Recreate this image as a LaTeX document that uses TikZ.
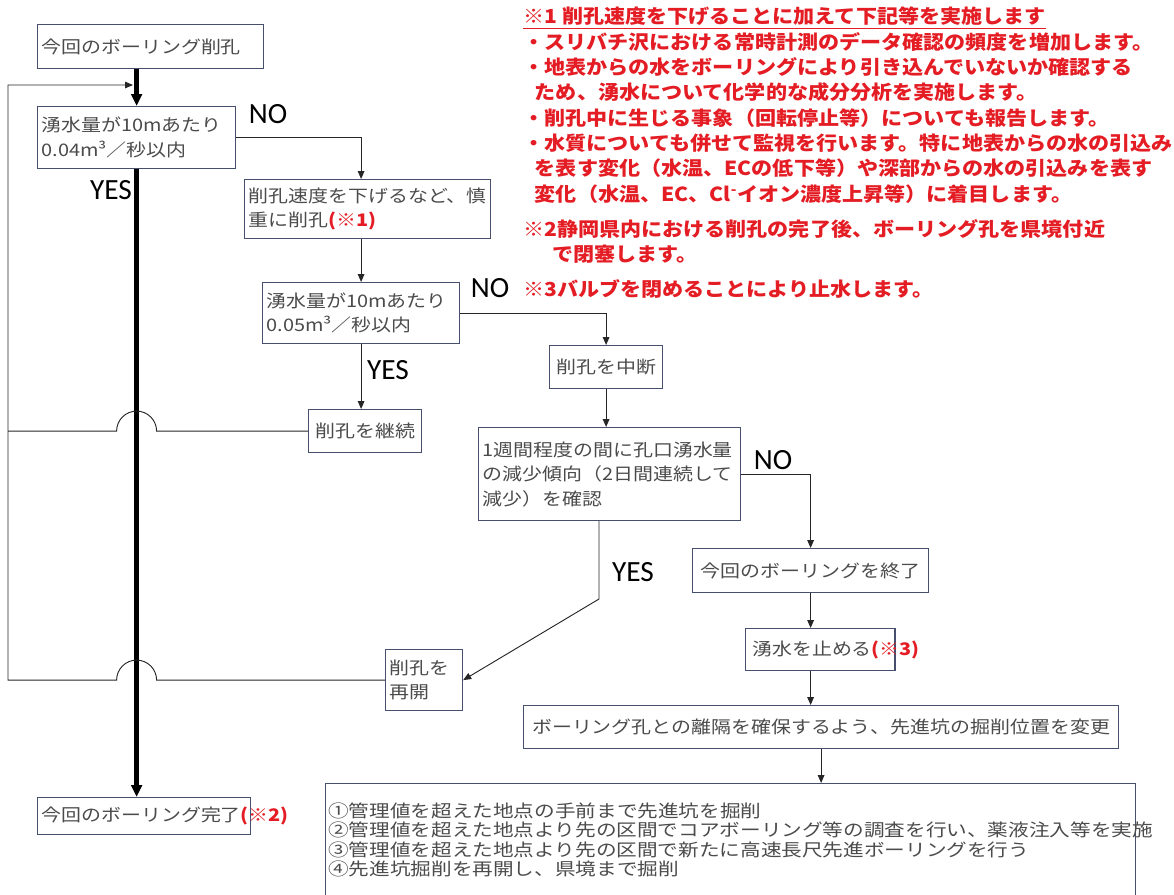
\documentclass[tikz,border=0pt]{standalone}
\usepackage{fontspec}
\setmainfont{Noto Sans CJK JP}[FakeStretch=1.15]
\newfontfamily\listfont{Noto Sans CJK JP}[FakeStretch=1.19]
\newfontfamily\notefont{Noto Sans CJK JP}[FakeStretch=1.09]
\newfontfamily\ynfont{Carlito}
\usetikzlibrary{arrows.meta,calc}
\definecolor{boxline}{RGB}{70,80,110}
\definecolor{boxtext}{RGB}{75,75,75}
\definecolor{notered}{RGB}{228,28,36}
\newcommand{\redmark}[1]{{\color{notered}\bfseries(※#1)}}
\tikzset{
  box/.style={draw=boxline,line width=0.9pt,fill=white,inner xsep=3pt,inner ysep=0pt,
    anchor=north west,text=boxtext,font=\fontsize{13}{18.4}\selectfont,align=left},
  flow/.style={draw=black!85,line width=0.7pt,-{Triangle[length=6pt,width=5pt]}},
  trunk/.style={line width=3.2pt,-{Triangle[length=9pt,width=8pt]}},
  yn/.style={font=\ynfont\fontsize{22}{22}\selectfont},
  note/.style={anchor=north west,inner sep=0pt,align=left,text=notered,
    font=\notefont\bfseries\fontsize{14.5}{19}\selectfont},
}

\begin{document}
\begin{tikzpicture}[x=0.75pt,y=-0.75pt]
  \useasboundingbox (0,0) rectangle (1174,894);
  \node[box,text width=163.5pt,minimum height=33pt] (kaishi) at (37,24) {今回のボーリング削孔};
  \node[box,text width=142.5pt,minimum height=46.5pt] (check1) at (37,106) {湧水量が10mあたり\\0.04m³／秒以内};
  \node[box,text width=178.5pt,minimum height=44.25pt] (gensoku) at (244,179) {削孔速度を下げるなど、慎\\重に削孔\redmark{1}};
  \node[box,text width=141.75pt,minimum height=45.75pt] (check2) at (262,282) {湧水量が10mあたり\\0.05m³／秒以内};
  \node[box,text width=78.75pt,minimum height=32.25pt,align=center] (chudan) at (549,345) {削孔を中断};
  \node[box,text width=78.75pt,minimum height=32.25pt,align=center] (keizoku) at (308,409) {削孔を継続};
  \node[box,text width=190.5pt,minimum height=69.75pt] (kakunin) at (478,427) {1週間程度の間に孔口湧水量\\の減少傾向（2日間連続して\\減少）を確認};
  \node[box,text width=171pt,minimum height=33pt,align=center] (shuryo) at (692,548) {今回のボーリングを終了};
  \node[box,text width=102pt,minimum height=31.5pt,inner xsep=5pt] (tomeru) at (745,628) {湧水を止める\redmark{3}};
  \node[box,text width=51.75pt,minimum height=45.75pt] (saikai) at (385,649) {削孔を\\再開};
  \node[box,text width=440.25pt,minimum height=32.25pt,align=center] (henko) at (523,705) {ボーリング孔との離隔を確保するよう、先進坑の掘削位置を変更};
  \node[box,text width=153.75pt,minimum height=27.75pt] (kanryo) at (37,797) {今回のボーリング完了\redmark{2}};
  \node[box,text width=603.5pt,minimum height=84.75pt,inner xsep=2pt,font=\listfont\fontsize{13}{14.6}\selectfont] (taisaku) at (325,783) {①管理値を超えた地点の手前まで先進坑を掘削\\②管理値を超えた地点より先の区間でコアボーリング等の調査を行い、薬液注入等を実施\\③管理値を超えた地点より先の区間で新たに高速長尺先進ボーリングを行う\\④先進坑掘削を再開し、県境まで掘削};

  \coordinate (loopx) at (8,85);
  \coordinate (loopin) at (133,85);
  \coordinate (yesbend) at (599,599);

  \draw[trunk] (check1.north |- kaishi.south) -- (check1.north);
  \draw[trunk] (check1.south) -- (check1.south |- kanryo.north);
  \draw[flow] (check1.east) -| (check2.north |- gensoku.north);
  \draw[flow] (check2.north |- gensoku.south) -- (check2.north);
  \draw[flow] (check2.east) -| (chudan.north);
  \draw[flow] (check2.south) -- (check2.south |- keizoku.north);
  \draw[flow] (chudan.south) -- (chudan.south |- kakunin.north);
  \draw[flow] (kakunin.east) -| (shuryo.north);
  \draw[flow] (shuryo.south) -- (shuryo.south |- tomeru.north);
  \draw[flow] (shuryo.south |- tomeru.south) -- (shuryo.south |- henko.north);
  \draw[flow] (henko.south) -- (henko.south |- taisaku.north);
  \draw[flow] (kakunin.south -| yesbend) -- (yesbend) -- (saikai.east);
  \draw[flow,-] (keizoku.west) -- ($(check1.south |- keizoku.west)+(20,0)$)
    arc[start angle=0,end angle=-180,radius=20] -- (loopx |- keizoku.west);
  \draw[flow] (saikai.west) -- ($(check1.south |- saikai.west)+(20,0)$)
    arc[start angle=0,end angle=-180,radius=20] -- (loopx |- saikai.west) -- (loopx) -- (loopin);

  \node[yn] (no1) at (268,114) {NO};
  \node[yn] (yes1) at (111,190) {YES};
  \node[yn] (no2) at (490,288) {NO};
  \node[yn] (yes2) at (388,370) {YES};
  \node[yn] (no3) at (773,460) {NO};
  \node[yn] (yes3) at (633,572) {YES};

  \node[note] (note1) at (523,7) {\underline{※1 削孔速度を下げることに加えて下記等を実施します}\\
    ・スリバチ沢における常時計測のデータ確認の頻度を増加します。\\
    ・地表からの水をボーリングにより引き込んでいないか確認する\\
    \hspace*{0.6em}ため、湧水について化学的な成分分析を実施します。\\
    ・削孔中に生じる事象（回転停止等）についても報告します。\\
    ・水質についても併せて監視を行います。特に地表からの水の引込み\\
    \hspace*{0.6em}を表す変化（水温、ECの低下等）や深部からの水の引込みを表す\\
    \hspace*{0.6em}変化（水温、EC、Cl\textsuperscript{-}イオン濃度上昇等）に着目します。};
  \node[note] (note2) at (523,219) {※2静岡県内における削孔の完了後、ボーリング孔を県境付近\\
    \hspace*{1.5em}で閉塞します。};
  \node[note] (note3) at (523,279) {※3バルブを閉めることにより止水します。};
\end{tikzpicture}
\end{document}
